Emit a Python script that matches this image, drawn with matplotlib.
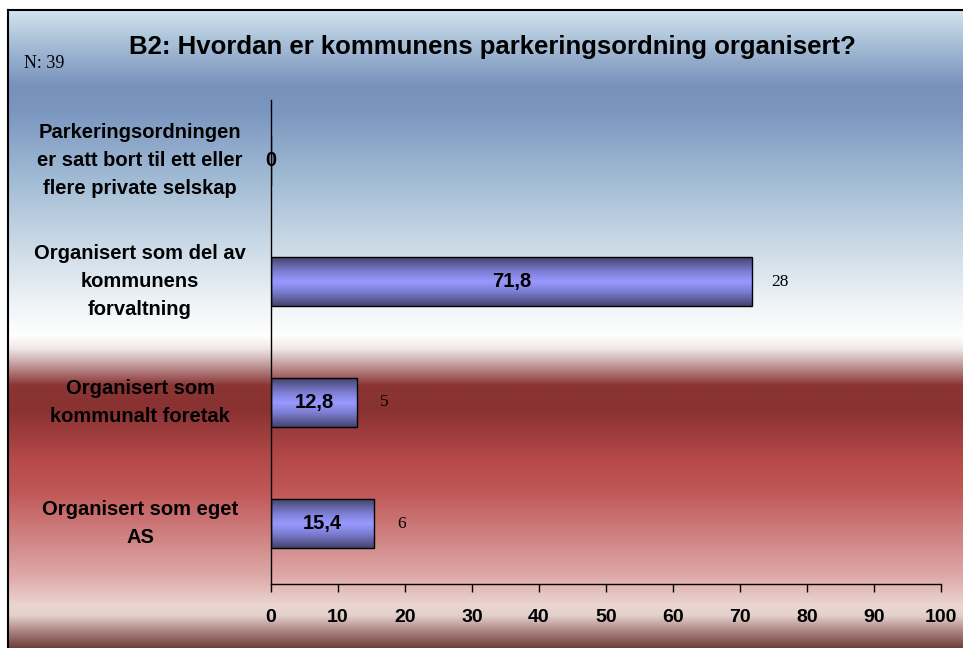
import numpy as np
import matplotlib
matplotlib.use("Agg")
import matplotlib.pyplot as plt
from matplotlib.colors import LinearSegmentedColormap, to_rgb
from matplotlib.transforms import blended_transform_factory

plt.rcParams['font.family'] = ['Liberation Sans', 'DejaVu Sans']

#-----
# Data
#-----
categories = ["Parkeringsordningen\ner satt bort til ett eller\nflere private selskap",
              "Organisert som del av\nkommunens\nforvaltning",
              "Organisert som\nkommunalt foretak",
              "Organisert som eget\nAS"]
percent = [0, 71.8, 12.8, 15.4]
counts = [0, 28, 5, 6]
xticks = list(range(0, 101, 10))
title = "B2: Hvordan er kommunens parkeringsordning organisert?"
n_text = "N: 39"

W, H = 963, 648
fig = plt.figure(figsize=(W / 100, H / 100), dpi=100)

#-------------------------------
# background gradient and frame
#-------------------------------
bg_stops = [(10, '#d4e4ef'), (40, '#aac2d9'), (85, '#7891bb'), (110, '#7b96bf'),
            (180, '#a2bcd5'), (250, '#cedce8'), (300, '#edf2f6'), (335, '#ffffff'),
            (348, '#f0e8e8'), (365, '#c09898'), (385, '#8a3434'), (410, '#8a3232'),
            (460, '#b64a4a'), (490, '#c05656'), (540, '#d18686'), (575, '#dea8a8'),
            (605, '#ebd6d1'), (615, '#e4d0cb'), (630, '#ad8883'), (648, '#6b3c37')]
rows = np.arange(10, H)
sy = [s[0] for s in bg_stops]
cols = np.array([to_rgb(s[1]) for s in bg_stops])
img = np.stack([np.interp(rows, sy, cols[:, k]) for k in range(3)], axis=-1)[:, None, :]

bg = fig.add_axes([0, 0, 1, 1], zorder=0)
bg.imshow(img, extent=[8, W, H, 10], aspect='auto', interpolation='bilinear')
bg.plot([8, 8], [H, 10], color='black', lw=1.5)
bg.plot([8, W], [10, 10], color='black', lw=1.5)
bg.set_xlim(0, W)
bg.set_ylim(H, 0)
bg.axis('off')

#----------
# bar chart
#----------
ax = fig.add_axes([271 / W, 1 - 584 / H, 670 / W, 484 / H], zorder=1)
ax.set_facecolor('none')

ypos = np.arange(len(categories))
bars = ax.barh(ypos, percent, height=0.4, color='none', edgecolor='black', lw=1, zorder=3)

bar_cmap = LinearSegmentedColormap.from_list(
    'barg', [(0, '#44446f'), (0.3, '#7f7fd6'), (0.5, '#9999ff'), (0.7, '#7f7fd6'), (1, '#44446f')])
grad = np.linspace(0, 1, 100)[:, None]
for b in bars:
    if b.get_width() > 0:
        ax.imshow(grad, cmap=bar_cmap, aspect='auto', interpolation='bilinear',
                  extent=[b.get_x(), b.get_x() + b.get_width(), b.get_y() + b.get_height(), b.get_y()],
                  zorder=2)


def fmt(v):
    s = f"{v:.1f}".replace('.', ',')
    return s[:-2] if s.endswith(',0') else s


for i, (p, c) in enumerate(zip(percent, counts)):
    ax.text(p / 2, i, fmt(p), ha='center', va='center', fontsize=14.5,
            fontweight='bold', zorder=4)
    if c > 0:
        ax.annotate(str(c), (p, i), xytext=(20, 0), textcoords='offset points',
                    ha='center', va='center', family='Liberation Serif', fontsize=12.5)

trans = blended_transform_factory(ax.transAxes, ax.transData)
for i, cat in enumerate(categories):
    ax.text(-0.1955, i, cat, transform=trans, ha='center', va='center',
            multialignment='center', fontweight='bold', fontsize=14.5, linespacing=1.6)

ax.set_xlim(0, 100)
ax.set_ylim(len(categories) - 0.5, -0.5)
ax.set_xticks(xticks)
ax.set_xticklabels([str(t) for t in xticks], fontweight='bold')
ax.set_yticks([])
ax.tick_params(axis='x', direction='out', length=6, width=1, pad=12, labelsize=14)
for s in ['top', 'right']:
    ax.spines[s].set_visible(False)
for s in ['left', 'bottom']:
    ax.spines[s].set_linewidth(1)

fig.text(492 / W, 1 - 47 / H, title, ha='center', va='center', fontsize=18.5, fontweight='bold')
fig.text(24 / W, 1 - 63 / H, n_text, family='Liberation Serif', fontsize=13, va='center')

fig.savefig('out.png', dpi=100)
